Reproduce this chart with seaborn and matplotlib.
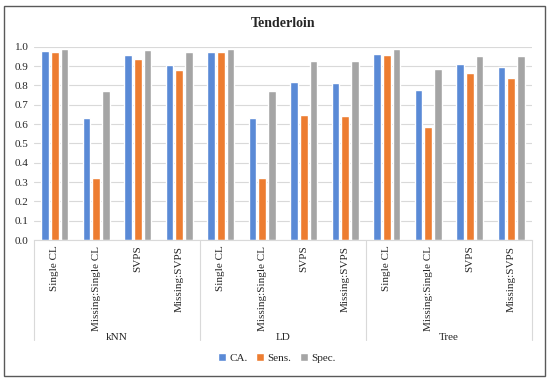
import pandas as pd
import numpy as np
import matplotlib
matplotlib.use('Agg')
import matplotlib.pyplot as plt
import matplotlib.patches as mpatches
import seaborn as sns

# Data
groups = ['kNN', 'LD', 'Tree']
subcats = ['Single CL', 'Missing:Single CL', 'SVPS', 'Missing:SVPS']
series = ['CA.', 'Sens.', 'Spec.']

ca = [0.98, 0.63, 0.955, 0.905,
      0.97, 0.63, 0.816, 0.812,
      0.961, 0.776, 0.910, 0.897]
sens = [0.975, 0.32, 0.935, 0.88,
        0.97, 0.32, 0.647, 0.641,
        0.957, 0.586, 0.864, 0.840]
spec = [0.99, 0.77, 0.985, 0.97,
        0.99, 0.77, 0.924, 0.924,
        0.988, 0.883, 0.953, 0.953]

colors = ['#5A8AD6', '#ED7D31', '#A5A5A5']

# long-form table
keys = [f'{g}|{s}' for g in groups for s in subcats]
rows = []
for name, vals in zip(series, [ca, sens, spec]):
    for k, v in zip(keys, vals):
        rows.append({'cat': k, 'metric': name, 'value': v})
df = pd.DataFrame(rows)

sns.set_style('white')
plt.rcParams['font.family'] = ['Liberation Serif', 'DejaVu Serif']

fig = plt.figure(figsize=(5.5, 3.82), dpi=100)
ax = fig.add_axes([34/550, 1-240/382, (532-34)/550, (240-46.7)/382])

sns.barplot(data=df, x='cat', y='value', hue='metric', order=keys,
            hue_order=series, palette=colors, width=0.7, gap=0.2,
            saturation=1, ax=ax, legend=True)

ax.set_ylim(0, 1.0)
ax.set_xlim(-0.5, len(keys) - 0.5)
ax.set_yticks(np.arange(0, 1.01, 0.1))
ax.set_yticklabels([f'{v:.1f}' for v in np.arange(0, 1.01, 0.1)], fontsize=8)
ax.yaxis.grid(True, color='#D9D9D9', linewidth=0.8)
ax.set_axisbelow(True)
for sp in ['top', 'right', 'left']:
    ax.spines[sp].set_visible(False)
ax.spines['bottom'].set_color('#D9D9D9')
ax.tick_params(axis='both', length=0, pad=4)
ax.set_xticks(range(len(keys)))
ax.set_xticklabels([k.split('|')[1] for k in keys], rotation=90, fontsize=8)
ax.set_xlabel('')
ax.set_ylabel('')

# group separators and group labels
trans = ax.get_xaxis_transform()
ybot = (240 - 340) / (240 - 46.7)
for x in np.arange(-0.5, len(keys), 4):
    ax.plot([x, x], [0, ybot], transform=trans, color='#D9D9D9',
            linewidth=0.8, clip_on=False)
for i, g in enumerate(groups):
    ax.text(i * 4 + 1.5, (240 - 337) / (240 - 46.7), g, transform=trans,
            ha='center', va='center', fontsize=8)

ax.set_title('Tenderloin', fontsize=10, fontweight='bold', pad=14)

# legend at the bottom
handles, labels = ax.get_legend_handles_labels()
ax.legend(handles, labels, loc='center', bbox_to_anchor=(277/550, 1-358/382),
          bbox_transform=fig.transFigure, ncol=3, frameon=False, fontsize=8,
          handlelength=0.7, handleheight=0.7, handletextpad=0.3,
          columnspacing=0.8)

# outer chart border
fig.patches.append(mpatches.Rectangle((4/550, 1-376/382), (545-4)/550,
                                      (376-5.5)/382, transform=fig.transFigure,
                                      fill=False, edgecolor='#595959',
                                      linewidth=1.0))

fig.savefig('out.png', dpi=100)
